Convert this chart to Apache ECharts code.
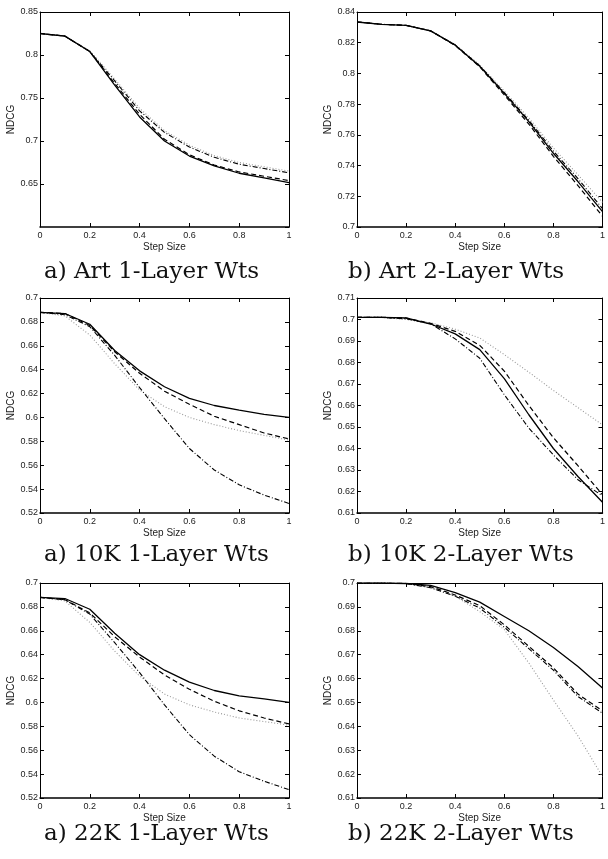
<html>
<head>
<meta charset="utf-8">
<title>NDCG vs Step Size</title>
<script src="https://cdn.jsdelivr.net/npm/echarts@6/dist/echarts.min.js"></script>
<style>
    body { margin: 0; background: #fff; }
    #chart { width: 608px; height: 859px; }
</style>
</head>
<body>
<div id="chart"></div>
<script>
// step sizes on the x axis
var steps = [0, 0.1, 0.2, 0.3, 0.4, 0.5, 0.6, 0.7, 0.8, 0.9, 1.0];

// Art 1-Layer
var art1Solid   = [0.825, 0.822, 0.804, 0.765, 0.728, 0.700, 0.6825, 0.671, 0.6625, 0.657, 0.6515];
var art1Dashed  = [0.825, 0.822, 0.804, 0.767, 0.731, 0.702, 0.684, 0.672, 0.664, 0.659, 0.654];
var art1DashDot = [0.825, 0.822, 0.804, 0.770, 0.735, 0.710, 0.693, 0.681, 0.673, 0.668, 0.663];
var art1Dotted  = [0.825, 0.822, 0.805, 0.772, 0.738, 0.712, 0.695, 0.683, 0.675, 0.670, 0.665];

// Art 2-Layer
var art2Solid   = [0.8335, 0.832, 0.8313, 0.8277, 0.8184, 0.8047, 0.787, 0.7686, 0.748, 0.7296, 0.710];
var art2Dashed  = [0.8335, 0.832, 0.8313, 0.8277, 0.8182, 0.8043, 0.786, 0.7670, 0.746, 0.7270, 0.707];
var art2DashDot = [0.8335, 0.832, 0.8313, 0.8277, 0.8186, 0.8050, 0.7875, 0.7695, 0.7495, 0.7315, 0.712];
var art2Dotted  = [0.8335, 0.832, 0.8313, 0.8277, 0.8188, 0.8055, 0.7885, 0.7710, 0.7515, 0.7340, 0.716];

// 10K 1-Layer
var k10aSolid   = [0.688, 0.687, 0.678, 0.656, 0.639, 0.6257, 0.616, 0.610, 0.6062, 0.6026, 0.600];
var k10aDashed  = [0.688, 0.687, 0.677, 0.655, 0.637, 0.622, 0.611, 0.601, 0.594, 0.587, 0.582];
var k10aDashDot = [0.688, 0.686, 0.676, 0.652, 0.625, 0.599, 0.574, 0.556, 0.5436, 0.535, 0.528];
var k10aDotted  = [0.688, 0.685, 0.669, 0.645, 0.623, 0.609, 0.600, 0.594, 0.589, 0.585, 0.581];

// 10K 2-Layer
var k10bSolid   = [0.701, 0.701, 0.7007, 0.6979, 0.6933, 0.686, 0.6725, 0.6557, 0.640, 0.627, 0.615];
var k10bDashed  = [0.701, 0.701, 0.7007, 0.6982, 0.6945, 0.688, 0.676, 0.660, 0.645, 0.632, 0.6185];
var k10bDashDot = [0.701, 0.701, 0.7003, 0.698, 0.691, 0.682, 0.665, 0.6495, 0.637, 0.6255, 0.618];
var k10bDotted  = [0.701, 0.701, 0.700, 0.6985, 0.6955, 0.6914, 0.6837, 0.6755, 0.667, 0.659, 0.651];

// 22K 1-Layer
var k22aSolid   = [0.688, 0.687, 0.678, 0.658, 0.640, 0.627, 0.617, 0.610, 0.6055, 0.603, 0.600];
var k22aDashed  = [0.688, 0.686, 0.675, 0.655, 0.638, 0.623, 0.611, 0.601, 0.593, 0.587, 0.582];
var k22aDashDot = [0.688, 0.686, 0.674, 0.650, 0.625, 0.598, 0.573, 0.555, 0.542, 0.534, 0.527];
var k22aDotted  = [0.688, 0.685, 0.667, 0.643, 0.622, 0.607, 0.598, 0.592, 0.587, 0.584, 0.581];

// 22K 2-Layer
var k22bSolid   = [0.700, 0.700, 0.6998, 0.699, 0.696, 0.692, 0.686, 0.680, 0.673, 0.665, 0.656];
var k22bDashed  = [0.700, 0.700, 0.6998, 0.6985, 0.695, 0.6905, 0.6825, 0.6735, 0.6645, 0.6535, 0.6465];
var k22bDashDot = [0.700, 0.700, 0.6998, 0.698, 0.6945, 0.6895, 0.6815, 0.6725, 0.6635, 0.6525, 0.6455];
var k22bDotted  = [0.700, 0.700, 0.6998, 0.698, 0.6945, 0.688, 0.6805, 0.6665, 0.651, 0.636, 0.619];

var panels = [
    {caption: 'a) Art 1-Layer Wts', min: 0.6, max: 0.85, interval: 0.05, hideMin: true,
     lines: [art1Solid, art1Dashed, art1DashDot, art1Dotted]},
    {caption: 'b) Art 2-Layer Wts', min: 0.7, max: 0.84, interval: 0.02,
     lines: [art2Solid, art2Dashed, art2DashDot, art2Dotted]},
    {caption: 'a) 10K 1-Layer Wts', min: 0.52, max: 0.7, interval: 0.02,
     lines: [k10aSolid, k10aDashed, k10aDashDot, k10aDotted]},
    {caption: 'b) 10K 2-Layer Wts', min: 0.61, max: 0.71, interval: 0.01,
     lines: [k10bSolid, k10bDashed, k10bDashDot, k10bDotted]},
    {caption: 'a) 22K 1-Layer Wts', min: 0.52, max: 0.7, interval: 0.02,
     lines: [k22aSolid, k22aDashed, k22aDashDot, k22aDotted]},
    {caption: 'b) 22K 2-Layer Wts', min: 0.61, max: 0.7, interval: 0.01,
     lines: [k22bSolid, k22bDashed, k22bDashDot, k22bDotted]}
];

var lineStyles = [
    {color: '#000', width: 1.3, type: 'solid'},
    {color: '#000', width: 1.2, type: [5, 3]},
    {color: '#000', width: 1.1, type: [5, 2, 1, 2]},
    {color: '#999', width: 1.1, type: [1, 2]}
];

var colLeft = [40, 357];
var rowTop = [12, 298, 583];
var captionTop = [261, 544, 823];
var captionLeft = [44, 348];
var sans = 'Liberation Sans, Arial, sans-serif';

var grids = [], xAxes = [], yAxes = [], series = [], graphics = [];

panels.forEach(function (p, i) {
    var col = i % 2, row = Math.floor(i / 2);
    grids.push({left: colLeft[col], top: rowTop[row], width: 249, height: 215});

    xAxes.push({
        gridIndex: i, type: 'value', min: 0, max: 1, interval: 0.2, position: 'bottom',
        axisLine: {onZero: false, lineStyle: {color: '#000', width: 1.5}},
        axisTick: {inside: true, length: 4, lineStyle: {color: '#000'}},
        axisLabel: {fontSize: 9, color: '#222', margin: 4, fontFamily: sans},
        splitLine: {show: false},
        name: 'Step Size', nameLocation: 'middle', nameGap: 15,
        nameTextStyle: {fontSize: 10, color: '#222', fontFamily: sans}
    });
    xAxes.push({
        gridIndex: i, type: 'value', min: 0, max: 1, interval: 0.2, position: 'top',
        axisLine: {onZero: false, lineStyle: {color: '#000', width: 1}},
        axisTick: {inside: true, length: 4, lineStyle: {color: '#000'}},
        axisLabel: {show: false}, splitLine: {show: false}
    });
    yAxes.push({
        gridIndex: i, type: 'value', min: p.min, max: p.max, interval: p.interval, position: 'left',
        axisLine: {show: true, onZero: false, lineStyle: {color: '#000', width: 1}},
        axisTick: {show: true, inside: true, length: 4, lineStyle: {color: '#000'}},
        axisLabel: {fontSize: 9, color: '#222', margin: 2, fontFamily: sans, showMinLabel: !p.hideMin},
        splitLine: {show: false},
        name: 'NDCG', nameLocation: 'middle', nameGap: 20, nameRotate: 90,
        nameTextStyle: {fontSize: 10, color: '#222', fontFamily: sans}
    });
    yAxes.push({
        gridIndex: i, type: 'value', min: p.min, max: p.max, interval: p.interval, position: 'right',
        axisLine: {show: true, onZero: false, lineStyle: {color: '#000', width: 1}},
        axisTick: {show: true, inside: true, length: 4, lineStyle: {color: '#000'}},
        axisLabel: {show: false}, splitLine: {show: false}
    });

    // dotted first so the dark lines sit on top
    [3, 2, 1, 0].forEach(function (k) {
        series.push({
            type: 'line', xAxisIndex: 2 * i, yAxisIndex: 2 * i,
            data: steps.map(function (x, j) { return [x, p.lines[k][j]]; }),
            showSymbol: false, lineStyle: lineStyles[k], silent: true, animation: false
        });
    });

    graphics.push({
        type: 'text', x: captionLeft[col], y: captionTop[row],
        style: {text: p.caption, fill: '#111', font: '23px "DejaVu Serif", serif',
                textAlign: 'left', textVerticalAlign: 'top'}
    });
});

var chart = echarts.init(document.getElementById('chart'), null, {renderer: 'canvas'});
chart.setOption({
    animation: false,
    backgroundColor: '#fff',
    grid: grids,
    xAxis: xAxes,
    yAxis: yAxes,
    series: series,
    graphic: graphics
});
</script>
</body>
</html>
